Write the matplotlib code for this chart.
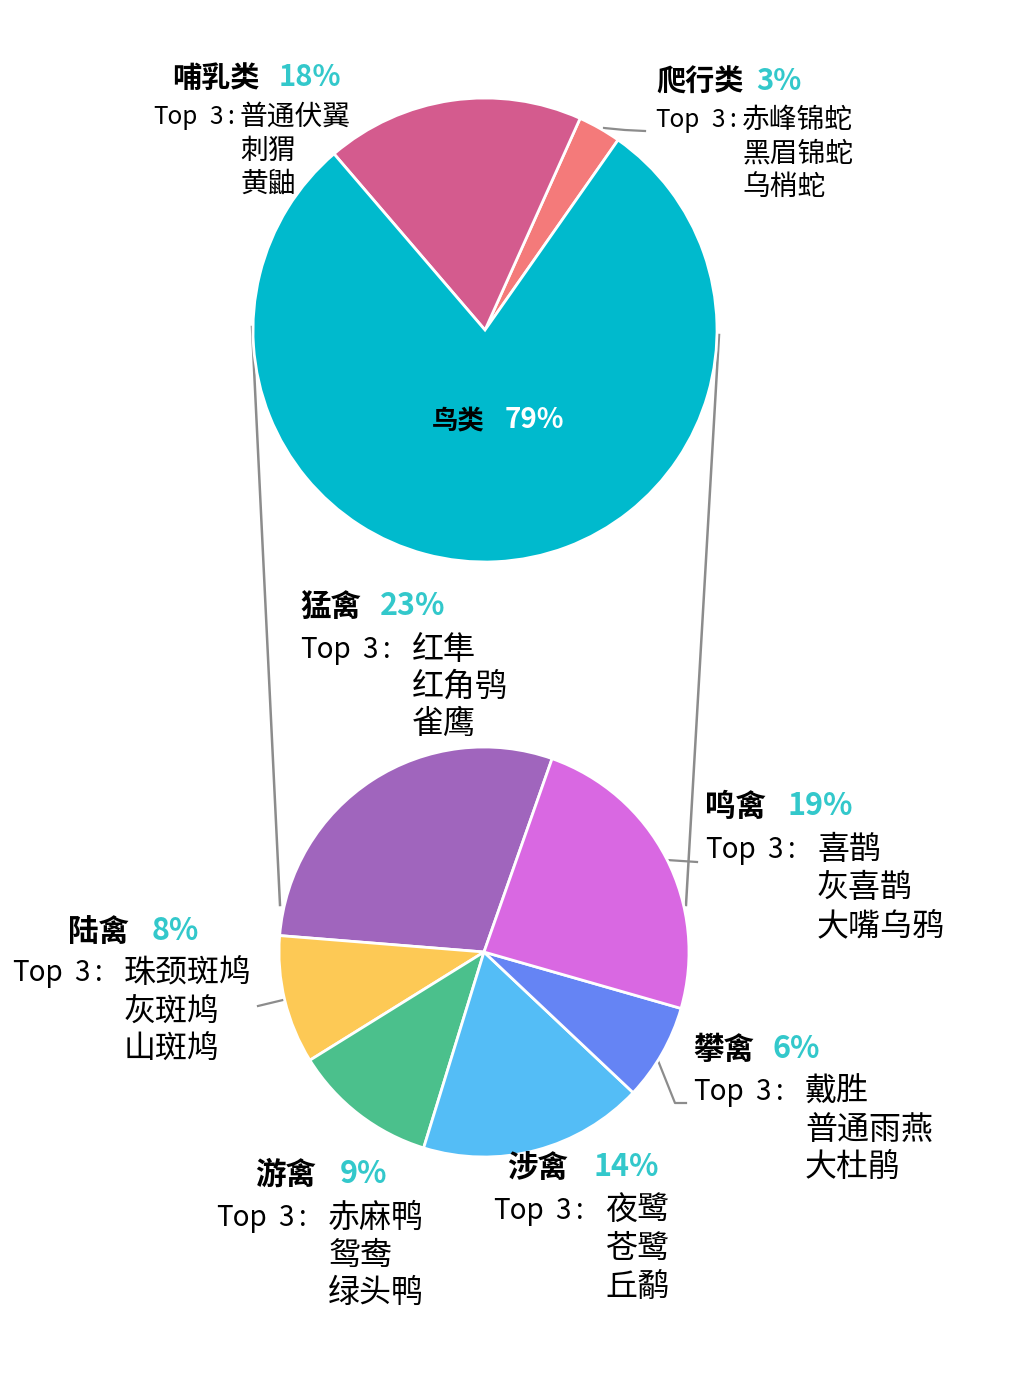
import matplotlib.pyplot as plt

plt.rcParams['font.family'] = ['Noto Sans CJK SC', 'DejaVu Sans']

# 上の円グラフ：全体
top_names = ['爬行类', '哺乳类', '鸟类']
top_values = [3, 18, 79]
top_colors = ['#F47A7A', '#D45B8E', '#00BACD']

# 下の円グラフ：鸟类の内訳
bird_names = ['猛禽', '陆禽', '游禽', '涉禽', '攀禽', '鸣禽']
bird_values = [23, 8, 9, 14, 6, 19]
bird_colors = ['#A065BD', '#FDC955', '#4BC08C', '#54BDF6', '#6584F4', '#D968E2']

# Top 3
top3 = {
    '哺乳类': ['普通伏翼', '刺猬', '黄鼬'],
    '爬行类': ['赤峰锦蛇', '黑眉锦蛇', '乌梢蛇'],
    '猛禽': ['红隼', '红角鸮', '雀鹰'],
    '鸣禽': ['喜鹊', '灰喜鹊', '大嘴乌鸦'],
    '陆禽': ['珠颈斑鸠', '灰斑鸠', '山斑鸠'],
    '攀禽': ['戴胜', '普通雨燕', '大杜鹃'],
    '游禽': ['赤麻鸭', '鸳鸯', '绿头鸭'],
    '涉禽': ['夜鹭', '苍鹭', '丘鹬'],
}
pct = dict(zip(top_names + bird_names, top_values + bird_values))

W, H = 1014, 1378
fig = plt.figure(figsize=(W / 100, H / 100), dpi=100)
ax = fig.add_axes([0, 0, 1, 1])

def Y(y):
    return H - y

gray = '#8C8C8C'
teal = '#33C8CB'

ax.pie(top_values, colors=top_colors, startangle=55, counterclock=True,
       center=(485, Y(330)), radius=232,
       wedgeprops=dict(edgecolor='white', linewidth=2))
ax.pie(bird_values, colors=bird_colors, startangle=70.6, counterclock=True,
       center=(484, Y(952)), radius=205,
       wedgeprops=dict(edgecolor='white', linewidth=2))

# pie() がリミットを変えるので後で設定
ax.set_xlim(0, W)
ax.set_ylim(0, H)
ax.set_aspect('equal')
ax.axis('off')

# 連結線
ax.plot([252, 280], [Y(327), Y(905)], color=gray, lw=1.8, zorder=0)
ax.plot([719, 686], [Y(335), Y(905)], color=gray, lw=1.8, zorder=0)

# 引き出し線
for xs, ys in [([604, 625, 645], [128, 130, 131]),
               ([667, 697], [860, 862]),
               ([657, 675, 686], [1058, 1103, 1103]),
               ([258, 283], [1006, 1000])]:
    ax.plot(xs, [Y(v) for v in ys], color=gray, lw=1.6, zorder=0)

# ラベル配置: (見出しx, 見出しy, %x, Top3 x, Top3 y, 行間, 見出しsize, 名前size, Top size, 大きい表示か)
layout = {
    '哺乳类': (172, 78, 279, 153, 117, 33.5, 21, 20, 17.5, False),
    '爬行类': (656, 82, 756, 655, 120, 33.5, 21, 20, 17.5, False),
    '猛禽': (300, 607, 380, 300, 650, 37, 22, 23, 20, True),
    '鸣禽': (705, 807, 787, 705, 850, 38, 22, 23, 20, True),
    '陆禽': (68, 932, 152, 12, 973, 38.5, 22, 23, 20, True),
    '攀禽': (693, 1050, 773, 693, 1092, 37.5, 22, 23, 20, True),
    '游禽': (255, 1175, 340, 216, 1218, 37.5, 22, 23, 20, True),
    '涉禽': (507, 1168, 593, 493, 1211, 38, 22, 23, 20, True),
}

for name, (hx, hy, px, tx, ty, gap, hs, ns, ts, big) in layout.items():
    d3, dc, dn = (62, 87, 112) if big else (56, 78, 87)
    ax.text(hx, Y(hy), name, fontsize=hs, fontweight='bold', va='center', ha='left')
    ax.text(px, Y(hy - 1), f'{pct[name]}%', fontsize=hs, fontweight='bold',
            color=teal, va='center', ha='left')
    ax.text(tx, Y(ty), 'Top', fontsize=ts, va='center', ha='left')
    ax.text(tx + d3, Y(ty), '3', fontsize=ts, va='center', ha='left')
    ax.text(tx + dc, Y(ty), ':', fontsize=ts, va='center', ha='center')
    for i, s in enumerate(top3[name]):
        ax.text(tx + dn, Y(ty + i * gap), s, fontsize=ns, va='center', ha='left')

ax.text(432, Y(422), '鸟类', fontsize=19, fontweight='bold', va='center', ha='left')
ax.text(505, Y(420), f'{pct["鸟类"]}%', fontsize=20, fontweight='bold', color='white', va='center', ha='left')

fig.savefig('out.png', dpi=100)
